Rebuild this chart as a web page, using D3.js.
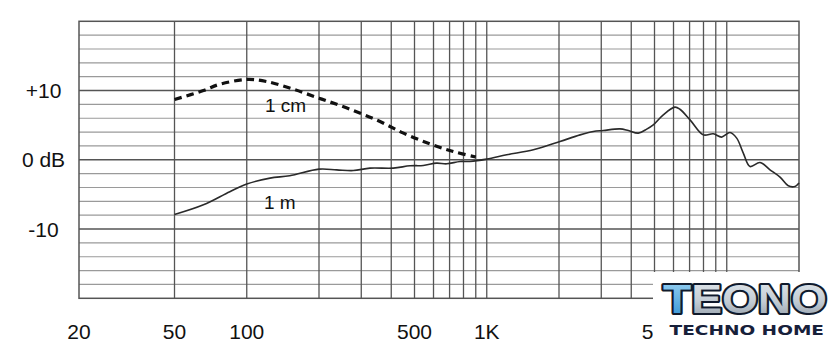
<!DOCTYPE html>
<html>
<head>
<meta charset="utf-8">
<script src="https://cdn.jsdelivr.net/npm/d3@7"></script>
<style>
  html, body { margin: 0; padding: 0; background: #fff; }
  svg { display: block; }
</style>
</head>
<body>
<svg id="chart" width="840" height="361"></svg>
<script>
// ---- Data ----
const curve1cmFreq = [50, 66, 77, 100, 121, 156, 200, 260, 350, 450, 580, 725, 900];
const curve1cmDb   = [8.7, 10.0, 10.9, 11.6, 11.3, 10.2, 8.9, 7.5, 5.7, 3.85, 2.3, 1.2, 0.4];

const curve1mFreq = [50, 66, 85, 100, 125, 151, 200, 237, 278, 326, 408, 479, 544, 618, 681, 774, 851, 1000,
  1211, 1564, 2018, 2448, 2780, 3060, 3590, 3890, 4280, 4640, 4940, 5440, 6080, 6380, 7030, 7980, 8790, 9520,
  10320, 11000, 11720, 12500, 13760, 15140, 16670, 18040, 19250, 20000];
const curve1mDb = [-7.9, -6.5, -4.6, -3.5, -2.65, -2.3, -1.35, -1.45, -1.55, -1.2, -1.2, -0.87, -0.82, -0.48, -0.58, -0.24, -0.24, 0.1,
  0.72, 1.44, 2.64, 3.6, 4.08, 4.23, 4.47, 4.23, 3.85, 4.43, 5.05, 6.5, 7.6, 7.3, 5.77, 3.6, 3.75, 3.28,
  3.94, 3.13, 0.97, -0.97, -0.39, -1.44, -2.5, -3.75, -3.85, -3.36];

const xGridFreqs = [50, 100, 200, 300, 400, 500, 600, 700, 800, 900, 1000, 2000, 3000, 4000, 5000, 6000, 7000, 8000, 9000, 10000];
const xTickFreqs = [20, 50, 100, 500, 1000, 5000];
const xTickLabels = ["20", "50", "100", "500", "1K", "5K"];
const yMinorGrid = [-18, -16, -14, -12, -8, -6, -4, -2, 2, 4, 6, 8, 12, 14, 16, 18];
const yMajorGrid = [-10, 0, 10];
const yTickValues = [10, 0, -10];
const yTickLabels = ["+10", "0 dB", "-10"];

// ---- Scales ----
const svg = d3.select("#chart");
const x = d3.scaleLog().domain([20, 20000]).range([79, 799]);
const y = d3.scaleLinear().domain([-20, 20]).range([298.3, 21.3]);
const font = "'Liberation Sans', Arial, sans-serif";

const g = svg.append("g");

// minor horizontal grid
g.selectAll("line.hmin").data(yMinorGrid).join("line")
  .attr("x1", x(20)).attr("x2", x(20000))
  .attr("y1", d => y(d)).attr("y2", d => y(d))
  .attr("stroke", "#9a9a9a").attr("stroke-width", 1.2);

// major horizontal grid
g.selectAll("line.hmaj").data(yMajorGrid).join("line")
  .attr("x1", x(20)).attr("x2", x(20000))
  .attr("y1", d => y(d)).attr("y2", d => y(d))
  .attr("stroke", "#555").attr("stroke-width", 1.4);

// vertical grid
g.selectAll("line.v").data(xGridFreqs).join("line")
  .attr("x1", d => x(d)).attr("x2", d => x(d))
  .attr("y1", y(20)).attr("y2", y(-20))
  .attr("stroke", "#555").attr("stroke-width", 1.3);

// frame
g.append("rect")
  .attr("x", x(20)).attr("y", y(20))
  .attr("width", x(20000) - x(20)).attr("height", y(-20) - y(20))
  .attr("fill", "none").attr("stroke", "#555").attr("stroke-width", 1.5);

// curves
const line = d3.line().x(d => x(d[0])).y(d => y(d[1])).curve(d3.curveCatmullRom.alpha(0.5));

svg.append("path")
  .attr("d", line(d3.zip(curve1mFreq, curve1mDb)))
  .attr("fill", "none").attr("stroke", "#2a2a2a").attr("stroke-width", 1.6);

svg.append("path")
  .attr("d", line(d3.zip(curve1cmFreq, curve1cmDb)))
  .attr("fill", "none").attr("stroke", "#111").attr("stroke-width", 3.2)
  .attr("stroke-dasharray", "7.5,5");

// curve labels
svg.append("text").attr("x", 265).attr("y", 111.5)
  .attr("font-family", font).attr("font-size", 19).attr("fill", "#111").text("1 cm");
svg.append("text").attr("x", 264).attr("y", 209.3)
  .attr("font-family", font).attr("font-size", 19).attr("fill", "#111").text("1 m");

// y labels
svg.selectAll("text.ylab").data(yTickValues).join("text")
  .attr("x", 43.5).attr("y", d => y(d)).attr("dy", "0.36em")
  .attr("text-anchor", "middle")
  .attr("font-family", font).attr("font-size", 21).attr("fill", "#111")
  .text((d, i) => yTickLabels[i]);

// x labels
svg.selectAll("text.xlab").data(xTickFreqs).join("text")
  .attr("x", d => x(d)).attr("y", 339.3)
  .attr("text-anchor", "middle")
  .attr("font-family", font).attr("font-size", 21).attr("fill", "#111")
  .text((d, i) => xTickLabels[i]);

// watermark logo box
const defs = svg.append("defs");
const grad = defs.append("linearGradient").attr("id", "lg").attr("x1", 0).attr("y1", 0).attr("x2", 0).attr("y2", 1);
grad.append("stop").attr("offset", "0%").attr("stop-color", "#e4eaef");
grad.append("stop").attr("offset", "55%").attr("stop-color", "#c3ccd4");
grad.append("stop").attr("offset", "100%").attr("stop-color", "#8e9aa6");
const gradB = defs.append("linearGradient").attr("id", "lgb").attr("x1", 0).attr("y1", 0).attr("x2", 0).attr("y2", 1);
gradB.append("stop").attr("offset", "0%").attr("stop-color", "#9fd6f5");
gradB.append("stop").attr("offset", "100%").attr("stop-color", "#2f8fd0");

svg.append("rect").attr("x", 653).attr("y", 272).attr("width", 187).attr("height", 89).attr("fill", "#fff");

const logo = svg.append("text").attr("x", 663).attr("y", 313)
  .attr("font-family", "'Liberation Sans', sans-serif").attr("font-weight", "bold").attr("font-size", 41)
  .attr("textLength", 164).attr("lengthAdjust", "spacingAndGlyphs")
  .attr("stroke", "#101a2c").attr("stroke-width", 4).attr("paint-order", "stroke")
  .attr("stroke-linejoin", "round");
logo.append("tspan").attr("fill", "url(#lgb)").text("T");
logo.append("tspan").attr("fill", "url(#lg)").text("EONO");

svg.append("text").attr("x", 669.5).attr("y", 335)
  .attr("font-family", "'DejaVu Sans', sans-serif").attr("font-weight", "bold").attr("font-size", 14)
  .attr("textLength", 154.5).attr("lengthAdjust", "spacingAndGlyphs")
  .attr("fill", "#17203a").text("TECHNO HOME");
</script>
</body>
</html>
